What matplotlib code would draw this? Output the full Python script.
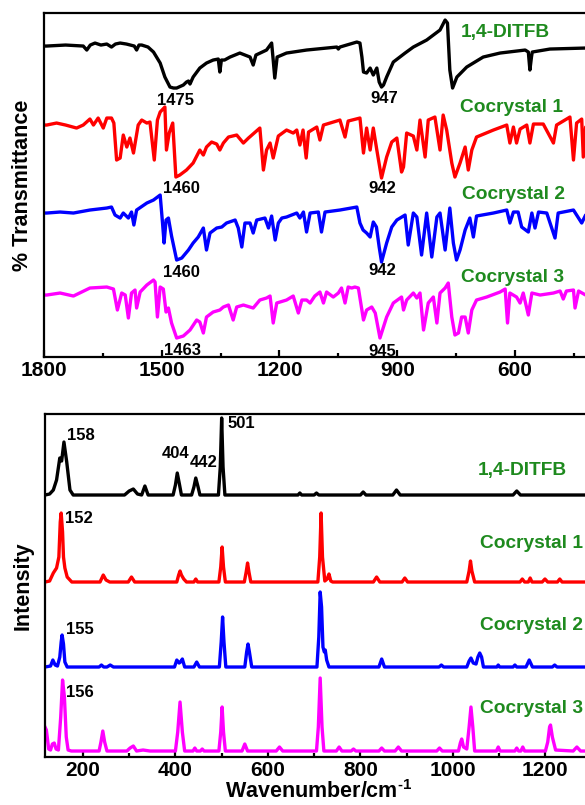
import matplotlib
matplotlib.use('Agg')
import matplotlib.pyplot as plt
from matplotlib.ticker import MultipleLocator

plt.rcParams['font.family'] = ['Liberation Sans', 'DejaVu Sans']
plt.rcParams['font.weight'] = 'bold'
plt.rcParams['mathtext.fontset'] = 'custom'
plt.rcParams['mathtext.rm'] = 'Liberation Sans:bold'
plt.rcParams['mathtext.bf'] = 'Liberation Sans:bold'
plt.rcParams['mathtext.default'] = 'bf'

# ---- IR spectra (wavenumber, transmittance in stacked a.u.) ----
ir_ditfb = [(1800,311),(1793,311),(1745,312),(1700,311),(1691,307),(1682,312),(1670,314),(1655,312),(1640,313),
            (1628,310),(1618,313),(1606,314),(1590,313),(1570,311),(1564,307),(1558,312),(1551,312),(1535,310),
            (1521,305),(1504,294),(1492,280),(1479,270),(1470,269),(1462,269),(1445,272),(1437,275),(1432,276),
            (1428,273),(1420,280),(1403,289),(1386,294),(1369,297),(1356,298),(1352,285),(1348,297),(1340,297),
            (1326,300),(1301,304),(1275,300),(1267,292),(1260,302),(1233,307),(1220,314),(1216,297),(1212,279),
            (1206,300),(1182,304),(1131,307),(1054,310),(1050,308),(1046,310),(1003,315),(995,314),(990,300),
            (986,285),(978,284),(969,289),(961,282),(952,289),(946,275),(940,270),(935,272),(927,280),(910,295),
            (880,304),(859,310),(825,317),(791,327),(778,337),(772,334),(766,287),(759,269),(748,280),(723,290),
            (681,300),(638,304),(574,307),(566,305),(562,287),(558,300),(556,305),(511,308),(420,309),(400,309)]
ir_co1 = [(1800,232),(1793,232),(1768,234),(1745,232),(1717,229),(1700,232),(1683,238),(1674,232),(1662,239),
          (1649,229),(1640,239),(1628,239),(1622,234),(1615,197),(1606,199),(1598,222),(1589,210),(1581,219),
          (1572,204),(1560,232),(1551,237),(1538,234),(1530,235),(1519,197),(1511,237),(1504,245),(1492,250),
          (1488,207),(1481,224),(1472,234),(1464,180),(1454,182),(1437,187),(1420,194),(1403,207),(1394,202),
          (1386,210),(1373,215),(1360,213),(1352,207),(1343,214),(1330,220),(1309,222),(1292,214),(1279,219),
          (1250,229),(1241,187),(1233,207),(1224,214),(1216,199),(1203,221),(1182,227),(1165,224),(1156,227),
          (1148,212),(1140,227),(1132,199),(1126,225),(1105,230),(1097,217),(1088,232),(1046,237),(1033,220),
          (1025,236),(995,239),(986,204),(978,229),(969,207),(961,229),(952,207),(940,179),(927,200),(914,215),
          (901,219),(889,185),(884,190),(876,224),(859,221),(850,207),(842,237),(829,200),(821,237),(804,240),
          (791,207),(783,242),(774,227),(761,194),(753,180),(740,194),(727,210),(719,187),(710,207),(698,220),
          (655,227),(621,232),(613,214),(604,230),(596,214),(587,228),(570,232),(562,214),(553,233),(528,233),
          (502,214),(494,232),(460,240),(451,197),(443,234),(430,238),(426,200),(420,230),(400,232)]
ir_co2 = [(1800,144),(1793,144),(1759,145),(1725,144),(1683,147),(1640,149),(1628,150),(1619,142),(1606,139),
          (1598,144),(1585,139),(1577,145),(1571,132),(1564,147),(1538,154),(1521,157),(1504,162),(1498,134),
          (1494,114),(1489,137),(1483,139),(1475,121),(1462,97),(1449,99),(1432,107),(1420,114),(1407,120),
          (1394,129),(1386,107),(1377,124),(1360,129),(1347,130),(1335,134),(1313,137),(1305,129),(1296,110),
          (1288,134),(1275,134),(1267,124),(1258,137),(1237,139),(1228,129),(1220,141),(1211,117),(1203,134),
          (1194,139),(1182,140),(1169,142),(1156,144),(1148,139),(1139,145),(1131,125),(1122,144),(1101,145),
          (1093,125),(1084,145),(1046,147),(1003,150),(995,134),(987,127),(978,124),(969,120),(961,135),(953,130),
          (946,110),(940,95),(927,114),(914,130),(901,137),(880,142),(872,112),(859,144),(850,140),(838,102),
          (825,144),(812,100),(799,140),(791,144),(778,107),(766,149),(757,114),(749,97),(740,107),(727,127),
          (715,139),(706,120),(698,141),(655,144),(621,147),(613,134),(604,145),(592,145),(583,130),(566,125),
          (557,144),(549,129),(540,145),(519,144),(498,119),(490,144),(451,147),(430,134),(420,142),(400,142)]
ir_co3 = [(1800,62),(1793,62),(1759,64),(1725,61),(1683,69),(1640,70),(1623,68),(1613,47),(1602,64),(1593,62),
          (1585,39),(1577,64),(1568,67),(1564,49),(1555,65),(1538,72),(1521,77),(1517,75),(1511,40),(1504,70),
          (1496,68),(1489,45),(1483,49),(1475,34),(1462,19),(1445,21),(1428,27),(1411,37),(1403,35),(1394,24),
          (1386,40),(1369,45),(1352,47),(1343,50),(1330,52),(1318,37),(1309,50),(1292,52),(1267,49),(1250,57),
          (1233,59),(1224,61),(1216,34),(1207,54),(1182,57),(1165,61),(1152,44),(1143,57),(1131,57),(1122,54),
          (1110,61),(1097,65),(1088,54),(1080,65),(1063,60),(1050,64),(1042,69),(1033,54),(1025,70),(1016,69),
          (1008,70),(999,69),(986,37),(978,47),(965,50),(956,44),(944,19),(927,40),(910,54),(889,60),(884,47),
          (876,57),(859,64),(850,59),(842,64),(833,27),(821,54),(808,60),(799,34),(791,64),(778,69),(770,74),
          (761,40),(753,22),(744,24),(736,40),(727,40),(719,24),(710,47),(698,57),(672,60),(638,65),(625,68),
          (619,34),(613,64),(596,60),(587,54),(579,64),(566,42),(557,64),(536,62),(502,64),(485,66),(477,58),
          (469,66),(451,67),(447,49),(438,66),(420,62),(400,62)]

# ---- Raman spectra (wavenumber, intensity in stacked a.u.) ----
ra_ditfb = [(118,262),(128,263),(136,267),(143,277),(150,299),(154,296),(159,315),(165,295),(172,267),(179,262),
            (290,262),(300,266),(309,268),(318,263),(327,262),(334,271),(341,262),(395,262),(400,272),(404,284),
            (409,272),(413,262),(435,262),(440,270),(444,279),(449,270),(453,262),(493,262),(497,290),(500,339),
            (503,290),(507,262),(665,262),(669,264),(673,262),(700,262),(705,264),(710,262),(800,262),(806,265),
            (812,262),(870,262),(878,267),(886,262),(1130,262),(1138,266),(1146,262),(1300,262)]
ra_co1 = [(118,175),(128,176),(136,184),(143,189),(148,200),(151,235),(153,244),(156,225),(158,200),(161,189),
          (166,180),(176,175),(237,175),(244,182),(250,177),(258,175),(298,175),(305,180),(312,175),(403,175),
          (407,182),(410,186),(413,182),(418,178),(424,175),(440,175),(444,178),(448,175),(494,175),(498,190),
          (501,210),(504,190),(508,175),(549,175),(553,185),(556,194),(559,185),(563,175),(708,175),(712,200),
          (715,244),(718,200),(723,176),(728,178),(732,183),(736,176),(740,175),(828,175),(835,180),(842,175),
          (890,175),(896,179),(902,175),(1030,175),(1035,186),(1038,196),(1041,186),(1047,175),(1145,175),
          (1150,178),(1155,175),(1163,175),(1167,179),(1171,175),(1193,175),(1199,178),(1205,175),(1226,175),
          (1231,178),(1236,175),(1300,175)]
ra_co2 = [(118,90),(130,91),(135,97),(140,92),(145,91),(150,100),(153,115),(155,122),(158,113),(161,95),(166,90),
          (235,90),(240,92),(245,90),(252,90),(259,92),(266,90),(398,90),(403,97),(408,94),(411,95),(415,98),
          (420,90),(440,90),(446,95),(452,90),(495,90),(499,115),(502,140),(505,115),(509,90),(550,90),(554,105),
          (557,113),(560,105),(565,90),(706,90),(710,120),(713,165),(716,150),(719,110),(722,105),(724,107),
          (727,97),(732,90),(840,90),(846,98),(852,90),(970,90),(975,92),(980,90),(1030,90),(1035,96),(1039,99),
          (1044,94),(1050,93),(1054,100),(1058,104),(1062,100),(1066,90),(1095,90),(1098,92),(1101,90),(1130,90),
          (1134,92),(1138,90),(1158,90),(1165,97),(1172,90),(1215,90),(1220,92),(1225,90),(1300,90)]
ra_co3 = [(118,30),(121,27),(126,8),(130,7),(134,13),(138,14),(142,8),(147,7),(152,40),(156,77),(160,60),(164,20),
          (168,7),(175,6),(235,6),(239,15),(243,26),(247,15),(252,6),(295,6),(302,9),(309,11),(316,6),(330,7),
          (345,6),(400,6),(405,25),(410,55),(415,25),(420,6),(438,6),(442,9),(446,6),(454,6),(458,8),(462,6),
          (494,6),(498,25),(501,50),(504,25),(508,6),(544,6),(550,13),(556,6),(618,6),(625,10),(632,6),(705,6),
          (709,30),(713,79),(717,30),(721,6),(748,6),(754,10),(760,6),(780,6),(785,8),(790,6),(840,6),(846,9),
          (852,6),(875,6),(882,10),(889,6),(965,6),(971,9),(977,6),(1012,6),(1016,14),(1019,18),(1023,10),
          (1030,8),(1035,30),(1039,50),(1043,30),(1047,6),(1094,6),(1098,10),(1102,6),(1134,6),(1138,9),(1142,6),
          (1147,6),(1151,10),(1155,6),(1200,6),(1205,15),(1209,30),(1211,32),(1215,20),(1222,7),(1260,6),
          (1268,10),(1276,6),(1300,6)]

names = ['1,4-DITFB', 'Cocrystal 1', 'Cocrystal 2', 'Cocrystal 3']
colors = ['black', '#FF0000', '#0000FF', '#FF00FF']
ir_peaks = [['1475', '947'], ['1460', '942'], ['1460', '942'], ['1463', '945']]
raman_peaks = [['158', '404', '442', '501'], ['152'], ['155'], ['156']]

GREEN = '#1E8A1E'

fig = plt.figure(figsize=(5.85, 8.05), dpi=100)
ax1 = fig.add_axes([0.0752, 0.5565, 0.9393, 0.4273])
ax2 = fig.add_axes([0.0769, 0.0596, 0.9345, 0.4261])

for data, c in zip([ir_ditfb, ir_co1, ir_co2, ir_co3], colors):
    ax1.plot([p[0] for p in data], [p[1] for p in data], color=c, lw=2.4, solid_joinstyle='round')
for data, c in zip([ra_ditfb, ra_co1, ra_co2, ra_co3], colors):
    ax2.plot([p[0] for p in data], [p[1] for p in data], color=c, lw=2.4, solid_joinstyle='round')

ax1.set_xlim(1800, 400)
ax1.set_ylim(0, 344)
ax1.xaxis.set_major_locator(MultipleLocator(300))
ax1.xaxis.set_minor_locator(MultipleLocator(150))
ax1.set_yticks([])
ax1.set_ylabel('% Transmittance', fontsize=15.5, fontweight='bold', labelpad=8)

ax2.set_xlim(118, 1300)
ax2.set_ylim(0, 343)
ax2.xaxis.set_major_locator(MultipleLocator(200))
ax2.xaxis.set_minor_locator(MultipleLocator(100))
ax2.set_yticks([])
ax2.set_ylabel('Intensity', fontsize=15.5, fontweight='bold', labelpad=8)
ax2.set_xlabel(r'Wavenumber/cm$^{\text{-1}}$', fontsize=15.5, fontweight='bold', labelpad=0)

for ax in (ax1, ax2):
    for s in ax.spines.values():
        s.set_linewidth(1.6)
    ax.tick_params(axis='x', which='major', direction='in', length=5, width=1.6, labelsize=15, pad=3)
    ax.tick_params(axis='x', which='minor', direction='in', length=3, width=1.6)
    for lbl in ax.get_xticklabels():
        lbl.set_fontweight('bold')

# IR labels and peak numbers
ir_name_pos = [(625, 325), (610, 250), (605, 163), (605, 80)]
for n, (x, y) in zip(names, ir_name_pos):
    ax1.text(x, y, n, color=GREEN, fontsize=13.8, fontweight='bold', ha='center', va='center')
ir_peak_pos = [[(1466, 257), (934, 259)], [(1451, 169), (939, 169)], [(1451, 85), (939, 87)],
               [(1446, 7), (939, 6)]]
for labels, pos in zip(ir_peaks, ir_peak_pos):
    for t, (x, y) in zip(labels, pos):
        ax1.text(x, y, t, fontsize=12, fontweight='bold', ha='center', va='center')

# Raman labels and peak numbers
ra_name_pos = [(1150, 287), (1169, 214), (1169, 132), (1169, 49)]
for n, (x, y) in zip(names, ra_name_pos):
    ax2.text(x, y, n, color=GREEN, fontsize=13.8, fontweight='bold', ha='center', va='center')
ra_peak_pos = [[(196, 322), (401, 304), (462, 295), (542, 334)], [(192, 239)], [(194, 128)], [(194, 65)]]
for labels, pos in zip(raman_peaks, ra_peak_pos):
    for t, (x, y) in zip(labels, pos):
        ax2.text(x, y, t, fontsize=12, fontweight='bold', ha='center', va='center')

fig.savefig('out.png', dpi=100)
